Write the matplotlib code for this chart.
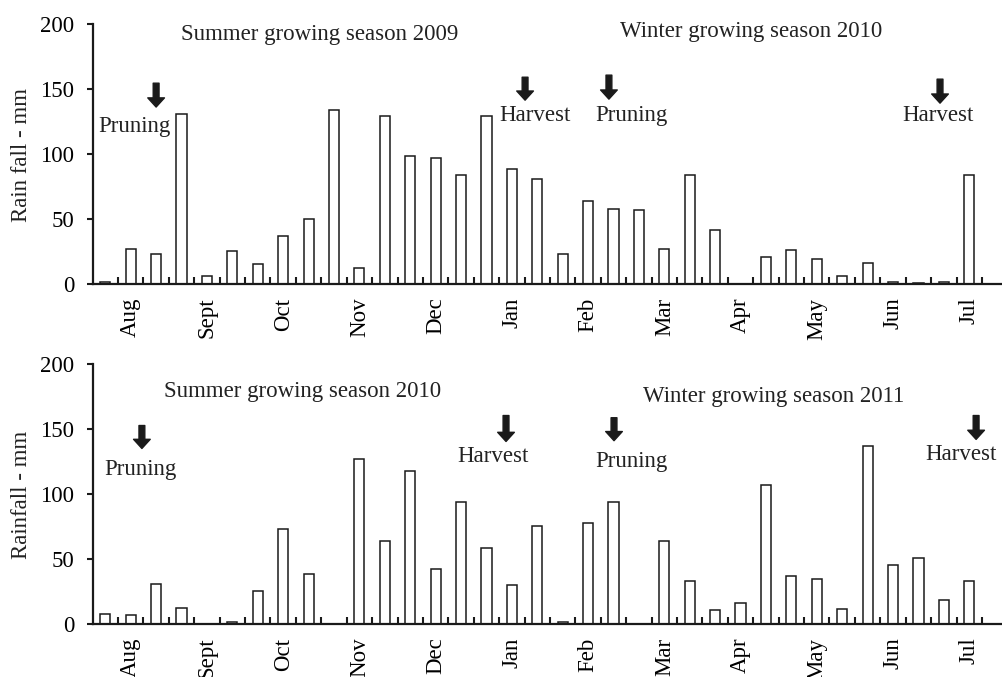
import numpy as np
import matplotlib
matplotlib.use("Agg")
import matplotlib.pyplot as plt

plt.rcParams['font.family'] = ['Liberation Serif', 'DejaVu Serif']
plt.rcParams['font.size'] = 16.5
plt.rcParams['text.color'] = '#222222'

months = ['Aug', 'Sept', 'Oct', 'Nov', 'Dec', 'Jan', 'Feb', 'Mar', 'Apr', 'May', 'Jun', 'Jul']

# rainfall per 10-day period, Aug -> Jul (3 per month)
rain_2009_10 = [1, 27, 23, 131, 6, 25, 15, 37, 50, 134, 12, 129,
                98.5, 96.7, 84, 129.5, 88.5, 81, 23, 63.6, 57.7, 57, 27, 84,
                41.5, 0, 20.3, 26, 19.2, 6, 16, 1, 0.5, 1, 84, 0]
rain_2010_11 = [7.4, 6.4, 30.3, 12.3, 0, 1.5, 25, 73, 38, 0, 126.7, 63.8,
                117.7, 42, 93.6, 58, 29.5, 75, 1, 77.7, 94.1, 0, 64, 32.8,
                10.8, 16.2, 106.7, 36.7, 34.4, 11.5, 137, 45.4, 50.5, 18.5, 33, 0]

# (label, x, baseline y) and arrows (x, tail y, tip y)
titles_top = [('Summer growing season 2009', 8.45, 187.7), ('Winter growing season 2010', 25.41, 190.2)]
labels_top = [('Pruning', 1.15, 117.2), ('Harvest', 16.91, 125.6), ('Pruning', 20.69, 125.6), ('Harvest', 32.77, 125.6)]
arrows_top = [(2.0, 154.6, 136.2), (16.52, 159.2, 141.5), (19.82, 160.8, 142.3), (32.85, 157.7, 139.2)]

titles_bot = [('Summer growing season 2010', 7.78, 174.6), ('Winter growing season 2011', 26.32, 170.8)]
labels_bot = [('Pruning', 1.39, 114.4), ('Harvest', 15.26, 124.6), ('Pruning', 20.69, 120.8), ('Harvest', 33.68, 126.5)]
arrows_bot = [(1.44, 152.8, 135.1), (15.77, 160.5, 140.5), (20.02, 158.8, 141.1), (34.27, 160.5, 142.1)]

ink = '#1a1a1a'


def draw_panel(ax, values, ylabel_text, titles, labels, arrows):
    x = np.arange(len(values))
    ax.bar(x, values, width=0.4, color='white', edgecolor=ink, linewidth=1.1)
    ax.set_xlim(-0.5, -0.5 + (1002 - 92.6) / 25.41)
    ax.set_ylim(0, 200)
    ax.set_yticks([0, 50, 100, 150, 200])
    ax.set_xticks(np.arange(1, 36, 3))
    ax.set_xticklabels(months, rotation=90)
    ax.set_xticks(np.arange(0.5, 35, 1), minor=True)
    ax.tick_params(axis='x', which='major', length=0, pad=10)
    ax.tick_params(axis='x', which='minor', direction='in', length=5, width=1.5, color=ink)
    ax.tick_params(axis='y', direction='out', length=4, width=1.5, color=ink, pad=9)
    for s in ['top', 'right']:
        ax.spines[s].set_visible(False)
    for s in ['left', 'bottom']:
        ax.spines[s].set_linewidth(1.6)
        ax.spines[s].set_color(ink)
    for t, tx, ty in titles + labels:
        ax.text(tx, ty, t, ha='center', va='baseline')
    for ax_x, y0, y1 in arrows:
        ax.annotate('', xy=(ax_x, y1), xytext=(ax_x, y0),
                    arrowprops=dict(arrowstyle='simple,head_length=0.55,head_width=1.0,tail_width=0.35',
                                    mutation_scale=12, color=ink, shrinkA=0, shrinkB=0))


fig = plt.figure(figsize=(10.02, 6.77), dpi=100)
ax1 = fig.add_axes([92.6 / 1002, 1 - 283.7 / 677, 1 - 92.6 / 1002, 259.4 / 677])
ax2 = fig.add_axes([92.6 / 1002, 1 - 623.7 / 677, 1 - 92.6 / 1002, 259.4 / 677])

draw_panel(ax1, rain_2009_10, 'Rain fall - mm', titles_top, labels_top, arrows_top)
draw_panel(ax2, rain_2010_11, 'Rainfall - mm', titles_bot, labels_bot, arrows_bot)

fig.text(22 / 1002, 1 - 154.5 / 677, 'Rain fall - mm', rotation=90, ha='center', va='center')
fig.text(22 / 1002, 1 - 495 / 677, 'Rainfall - mm', rotation=90, ha='center', va='center')

fig.savefig('out.png', dpi=100)
